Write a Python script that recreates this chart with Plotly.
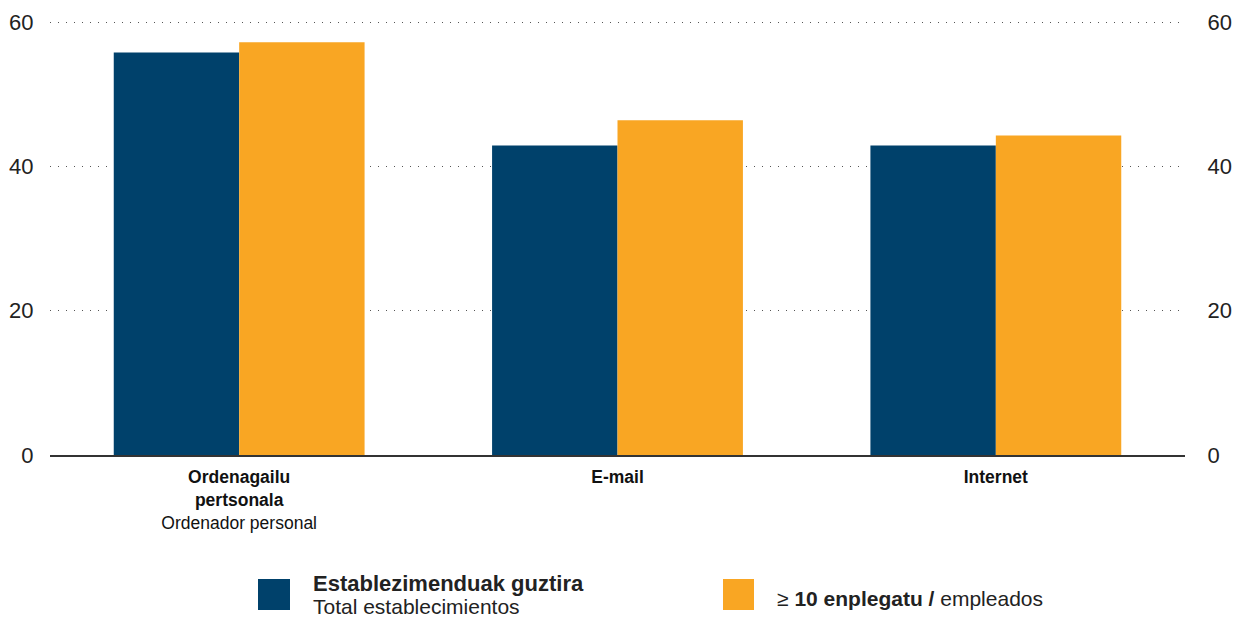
import plotly.graph_objects as go

categories = ["Ordenagailu pertsonala", "E-mail", "Internet"]
tick_labels = [
    "<b>Ordenagailu</b><br><b>pertsonala</b><br>Ordenador personal",
    "<b>E-mail</b>",
    "<b>Internet</b>",
]
total_est = [55.8, 42.9, 42.9]
ten_plus = [57.2, 46.4, 44.3]

NAVY = "#00416B"
ORANGE = "#F9A623"
FONT = "Arial, Liberation Sans, sans-serif"

W, H = 1241, 617
L, R, T, B = 50, 56, 20, 162


def px(x):
    return (x - L) / (W - L - R)


def py(y):
    return (H - B - y) / (H - T - B)


fig = go.Figure()
fig.add_trace(go.Bar(x=categories, y=total_est, marker_color=NAVY,
                     marker_line_width=0, name="Total"))
fig.add_trace(go.Bar(x=categories, y=ten_plus, marker_color=ORANGE,
                     marker_line_width=0, name=">=10"))
# invisible trace so the right axis is drawn
fig.add_trace(go.Scatter(x=categories, y=[0, 0, 0], yaxis="y2", mode="markers",
                         marker_opacity=0, hoverinfo="skip", showlegend=False))

fig.update_layout(
    width=W, height=H,
    margin=dict(l=L, r=R, t=T, b=B, autoexpand=False),
    paper_bgcolor="white", plot_bgcolor="white",
    barmode="group", bargap=0.337, bargroupgap=0,
    showlegend=False,
    font=dict(family=FONT, color="#222222"),
    xaxis=dict(
        tickvals=categories, ticktext=tick_labels, automargin=False,
        tickfont=dict(size=17.5, color="#111111"),
        showline=True, linecolor="#333333", linewidth=2,
        ticks="outside", ticklen=5, tickcolor="rgba(0,0,0,0)",
        showgrid=False,
    ),
    yaxis=dict(
        range=[0, 60.3], tickvals=[0, 20, 40, 60], automargin=False,
        tickfont=dict(size=22, color="#222222"),
        showgrid=True, gridcolor="#555555", gridwidth=1.3,
        griddash="1px,7px", zeroline=False,
        ticks="outside", ticklen=11, tickcolor="rgba(0,0,0,0)",
    ),
    yaxis2=dict(
        range=[0, 60.3], tickvals=[0, 20, 40, 60], overlaying="y", side="right",
        automargin=False,
        tickfont=dict(size=22, color="#222222"),
        showgrid=False, zeroline=False,
        ticks="outside", ticklen=17, tickcolor="rgba(0,0,0,0)",
    ),
)

# legend drawn by hand
fig.add_shape(type="rect", xref="paper", yref="paper",
              x0=px(258), x1=px(290), y0=py(610), y1=py(579),
              fillcolor=NAVY, line_width=0)
fig.add_shape(type="rect", xref="paper", yref="paper",
              x0=px(723), x1=px(754), y0=py(610), y1=py(579),
              fillcolor=ORANGE, line_width=0)
legend_lines = [
    (311, 583, "<b>Establezimenduak guztira</b>", 22),
    (311, 606, "Total establecimientos", 21),
    (775, 598, "\u2265 <b>10 enplegatu /</b> empleados", 21),
]
for lx, ly, txt, fs in legend_lines:
    fig.add_annotation(xref="paper", yref="paper", x=px(lx), y=py(ly),
                       xanchor="left", yanchor="middle", align="left",
                       showarrow=False, text=txt,
                       font=dict(size=fs, color="#222222", family=FONT))

# drop the default 8px page margin so the figure fills the window
fig.write_html("out.html", config={"displayModeBar": False},
               post_script="document.body.style.margin='0';")
